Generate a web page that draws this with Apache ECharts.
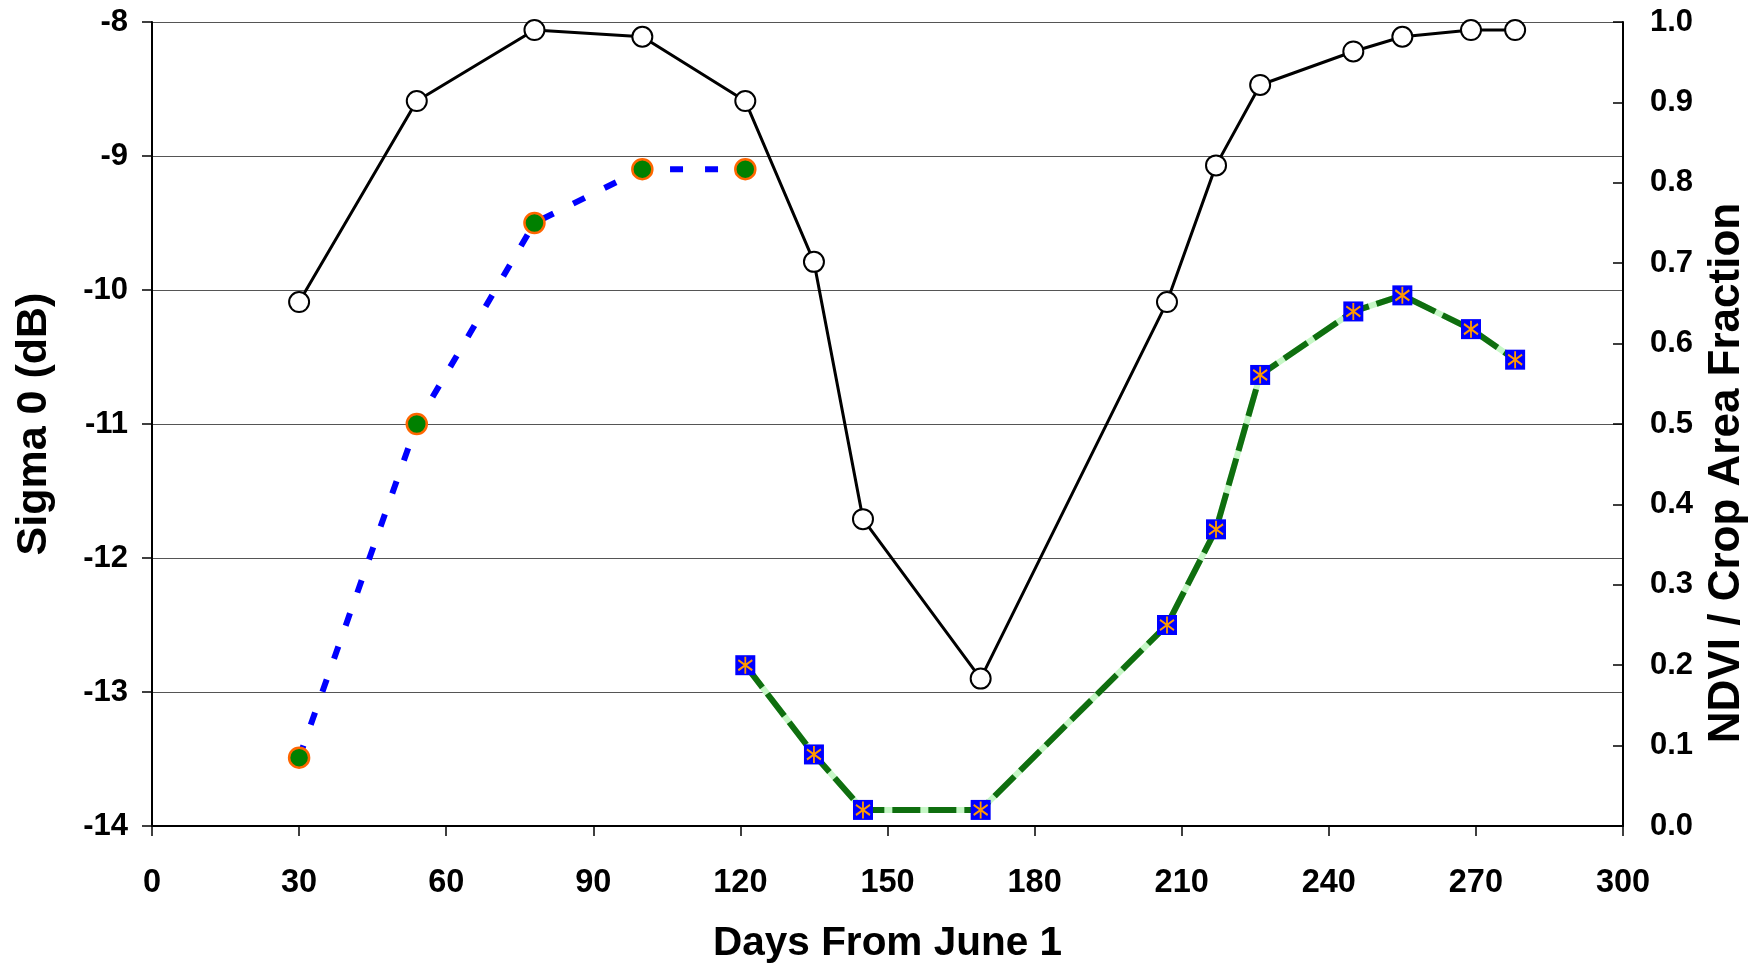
<!DOCTYPE html>
<html>
<head>
<meta charset="utf-8">
<script src="https://cdn.jsdelivr.net/npm/echarts@6/dist/echarts.min.js"></script>
<style>
html,body{margin:0;padding:0;background:#fff;}
#chart{width:1748px;height:966px;}
</style>
</head>
<body>
<div id="chart"></div>
<script>
// Sigma 0 (dB) — left axis
const sigmaDays = [30, 54, 78, 100, 121, 135, 145, 169, 207, 217, 226, 245, 255, 269, 278];
const sigmaValues = [-10.09, -8.59, -8.06, -8.11, -8.59, -9.79, -11.71, -12.90, -10.09, -9.07, -8.47, -8.22, -8.11, -8.06, -8.06];

// Crop area fraction — right axis (blue dotted, green circles)
const cropDays = [30, 54, 78, 100, 121];
const cropValues = [0.085, 0.50, 0.75, 0.817, 0.817];

// NDVI — right axis (green dashed, blue squares)
const ndviDays = [121, 135, 145, 169, 207, 217, 226, 245, 255, 269, 278];
const ndviValues = [0.20, 0.089, 0.02, 0.02, 0.25, 0.369, 0.561, 0.64, 0.66, 0.618, 0.58];

const xTicks = [0, 300, 30];
const leftTicks = [-14, -8, 1];
const rightTicks = [0, 1, 0.1];

const FONT = "'Liberation Sans', Arial, sans-serif";

function pairs(xs, ys) { return xs.map((x, i) => [x, ys[i]]); }

const chart = echarts.init(document.getElementById('chart'));
const labelStyle = { color: '#000', fontFamily: FONT, fontWeight: 'bold', fontSize: 31 };

chart.setOption({
  animation: false,
  backgroundColor: '#fff',
  grid: { left: 152, right: 125, top: 22, bottom: 140, containLabel: false, outerBoundsMode: 'none' },
  xAxis: {
    type: 'value', min: xTicks[0], max: xTicks[1], interval: xTicks[2],
    name: 'Days From June 1', nameLocation: 'middle', nameGap: 97,
    nameTextStyle: { color: '#000', fontFamily: FONT, fontWeight: 'bold', fontSize: 40.5 },
    axisLine: { show: true, onZero: false, lineStyle: { color: '#000', width: 2 } },
    axisTick: { show: true, inside: false, length: 10, lineStyle: { color: '#000', width: 1.5 } },
    axisLabel: Object.assign({ margin: 41 }, labelStyle, { fontSize: 32.5 }),
    splitLine: { show: false }
  },
  yAxis: [
    {
      type: 'value', min: leftTicks[0], max: leftTicks[1], interval: leftTicks[2],
      position: 'left',
      name: 'Sigma 0 (dB)', nameLocation: 'middle', nameGap: 96, nameRotate: 90,
      nameTextStyle: { color: '#000', fontFamily: FONT, fontWeight: 'bold', fontSize: 43 },
      axisLine: { show: true, onZero: false, lineStyle: { color: '#000', width: 2 } },
      axisTick: { show: true, inside: false, length: 10, lineStyle: { color: '#000', width: 1.5 } },
      axisLabel: Object.assign({ margin: 24 }, labelStyle),
      splitLine: { show: true, lineStyle: { color: '#555', width: 1.2 } }
    },
    {
      type: 'value', min: rightTicks[0], max: rightTicks[1], interval: rightTicks[2],
      position: 'right',
      name: 'NDVI / Crop Area Fraction', nameLocation: 'middle', nameGap: 82, nameRotate: 90,
      nameTextStyle: { color: '#000', fontFamily: FONT, fontWeight: 'bold', fontSize: 44, padding: [0, 98, 0, 0] },
      axisLine: { show: true, onZero: false, lineStyle: { color: '#000', width: 2 } },
      axisTick: { show: true, inside: true, length: 10, lineStyle: { color: '#000', width: 1.5 } },
      axisLabel: Object.assign({ margin: 27, formatter: v => v.toFixed(1) }, labelStyle),
      splitLine: { show: false }
    }
  ],
  series: [
    {
      name: 'Crop Area Fraction', type: 'line', yAxisIndex: 1, z: 3,
      data: pairs(cropDays, cropValues),
      symbol: 'circle', symbolSize: 20,
      itemStyle: { color: '#008000', borderColor: '#FF6600', borderWidth: 2.5 },
      lineStyle: { color: '#0000FF', width: 6, type: [13, 22] }
    },
    {
      name: 'Sigma 0', type: 'line', yAxisIndex: 0, z: 4,
      data: pairs(sigmaDays, sigmaValues),
      symbol: 'circle', symbolSize: 20,
      itemStyle: { color: '#fff', borderColor: '#000', borderWidth: 2 },
      lineStyle: { color: '#000', width: 3 }
    },
    {
      name: 'NDVI base', type: 'line', yAxisIndex: 1, z: 5,
      data: pairs(ndviDays, ndviValues),
      symbol: 'none',
      lineStyle: { color: '#C6F7C6', width: 6 }
    },
    {
      name: 'NDVI', type: 'line', yAxisIndex: 1, z: 6,
      data: pairs(ndviDays, ndviValues),
      symbol: 'rect', symbolSize: 20,
      itemStyle: { color: '#0000FF', borderWidth: 0 },
      lineStyle: { color: '#0F6E0F', width: 6, type: [28, 8] }
    },
    {
      name: 'NDVI star', type: 'line', yAxisIndex: 1, z: 7,
      data: pairs(ndviDays, ndviValues),
      symbol: 'path://M8,0L8,20M1,4L15,16M15,4L1,16', symbolSize: [14, 17],
      itemStyle: { color: 'rgba(0,0,0,0)', borderColor: '#FF9900', borderWidth: 2 },
      lineStyle: { width: 0, opacity: 0 }
    }
  ]
});
</script>
</body>
</html>
